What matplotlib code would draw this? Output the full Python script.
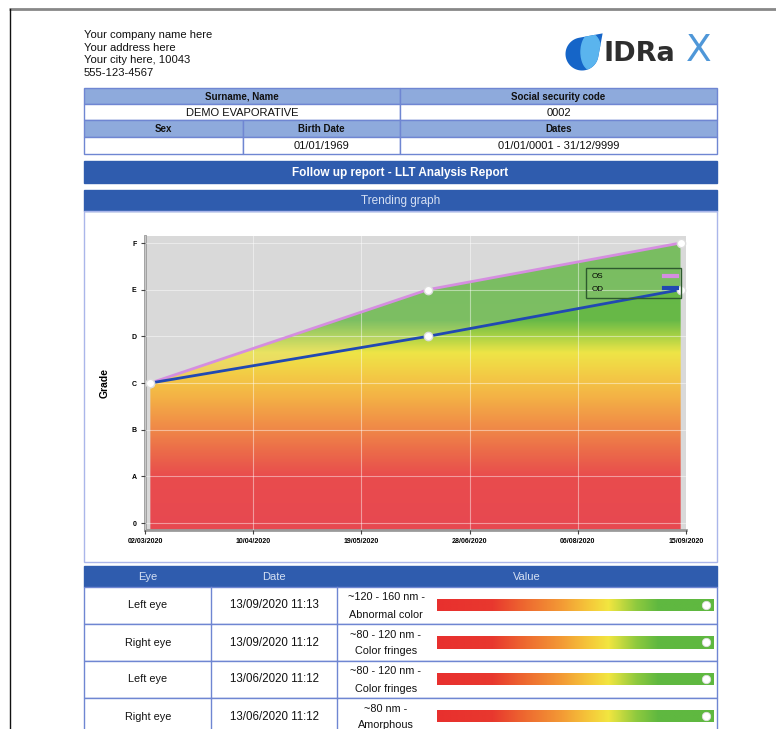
import numpy as np
import matplotlib
matplotlib.use("Agg")
import matplotlib.pyplot as plt
import matplotlib.dates as mdates
from matplotlib.colors import LinearSegmentedColormap
from matplotlib.patches import Rectangle, Ellipse, Polygon
from matplotlib.lines import Line2D
from datetime import datetime

plt.rcParams['font.family'] = ['Liberation Sans', 'DejaVu Sans']

# ---- data ----
company_lines = ["Your company name here", "Your address here",
                 "Your city here, 10043", "555-123-4567"]
patient_name = "DEMO EVAPORATIVE"
ss_code = "0002"
sex = ""
birth_date = "01/01/1969"
date_range = "01/01/0001 - 31/12/9999"

visit_dates = [datetime(2020, 3, 4), datetime(2020, 6, 13), datetime(2020, 9, 13)]
os_grade = [3, 5, 6]
od_grade = [3, 4, 5]
grade_labels = ["0", "A", "B", "C", "D", "E", "F"]
x_start = datetime(2020, 3, 2)
x_end = datetime(2020, 9, 15)

eyes = ["Left eye", "Right eye", "Left eye", "Right eye"]
meas_dates = ["13/09/2020 11:13", "13/09/2020 11:12", "13/06/2020 11:12", "13/06/2020 11:12"]
value_top = ["~120 - 160 nm -", "~80 - 120 nm -", "~80 - 120 nm -", "~80 nm -"]
value_bottom = ["Abnormal color", "Color fringes", "Color fringes", "Amorphous"]
bar_pos = [0.97, 0.97, 0.97, 0.97]

# ---- colours ----
dark_blue = "#2f5cae"
light_blue = "#8eaadc"
line_blue = "#6f86d2"
txt = "#111111"
grade_cmap = LinearSegmentedColormap.from_list("grade", [
    (0.0, "#e8414a"), (1.15 / 6.3, "#ea4546"), (1.75 / 6.3, "#ee6a42"),
    (2.35 / 6.3, "#f39040"), (2.95 / 6.3, "#f6b63e"), (3.35 / 6.3, "#f5cc3e"),
    (3.8 / 6.3, "#f0e640"), (4.2 / 6.3, "#9fcf3e"), (4.5 / 6.3, "#62b841"),
    (1.0, "#5db53f")])
bar_cmap = LinearSegmentedColormap.from_list("bar", [
    (0.0, "#e8302e"), (0.2, "#e8382e"), (0.32, "#ee6a30"), (0.45, "#f39a35"),
    (0.55, "#f5c83a"), (0.62, "#f2e640"), (0.72, "#8fca3e"), (0.8, "#5fb840"),
    (1.0, "#5fb840")])

W, H = 776, 729
fig = plt.figure(figsize=(W / 100, H / 100), dpi=100)
fig.patch.set_facecolor("white")


def fbox(x0, y0, x1, y1):
    return [x0 / W, 1 - y1 / H, (x1 - x0) / W, (y1 - y0) / H]


ov = fig.add_axes([0, 0, 1, 1])
ov.set_xlim(0, W)
ov.set_ylim(H, 0)
ov.axis("off")

# page border
ov.plot([9, W], [8.5, 8.5], color="#888888", lw=2, solid_capstyle="butt")
ov.plot([9.5, 9.5], [8.5, H], color="#111111", lw=1)

# company header
for i, t in enumerate(company_lines):
    ov.text(84, 35 + i * 12.5, t, fontsize=8.1, color=txt, va="center")

# logo: droplet
cx, cy, r = 582, 54, 16.5
ang = np.radians(np.linspace(100, 350, 60))
pts = [(cx + r * np.cos(a), cy - r * np.sin(a)) for a in ang]
pts.append((cx + r * 1.25, cy - r * 1.25))
drop = Polygon(pts, closed=True, facecolor="#1565c8", edgecolor="none")
ov.add_patch(drop)
hl = Ellipse((591, 52), 20, 36, color="#5ab4ee")
ov.add_patch(hl)
hl.set_clip_path(drop)
ov.text(604, 54, "IDRa", fontsize=19.5, fontweight="bold", color="#2e2e2e",
        va="center", family="DejaVu Sans")
ov.text(686, 51, "X", fontsize=27, color="#4f97d8", va="center", family="DejaVu Sans")


def cell(x0, y0, x1, y1, fill, text="", bold=False, size=7, color=txt, ec=line_blue):
    ov.add_patch(Rectangle((x0, y0), x1 - x0, y1 - y0, facecolor=fill, edgecolor=ec, lw=1))
    if text:
        ov.text((x0 + x1) / 2, (y0 + y1) / 2 + 0.5, text, ha="center", va="center",
                fontsize=size, fontweight="bold" if bold else "normal", color=color)


# patient table
cell(84, 88, 400, 104, light_blue, "Surname, Name", True)
cell(400, 88, 717, 104, light_blue, "Social security code", True)
cell(84, 104, 400, 120, "white", patient_name, size=8)
cell(400, 104, 717, 120, "white", ss_code, size=8)
cell(84, 120, 243, 137, light_blue, "Sex", True)
cell(243, 120, 400, 137, light_blue, "Birth Date", True)
cell(400, 120, 717, 137, light_blue, "Dates", True)
cell(84, 137, 243, 154, "white", sex, size=8)
cell(243, 137, 400, 154, "white", birth_date, size=8)
cell(400, 137, 717, 154, "white", date_range, size=8)

# banners
cell(84, 161, 717, 183, dark_blue, "Follow up report - LLT Analysis Report", True, 8.5,
     "white", ec=dark_blue)
cell(84, 190, 717, 211, dark_blue, "Trending graph", False, 8.5, "#d5e0f3", ec=dark_blue)
ov.add_patch(Rectangle((84, 211), 633, 351, facecolor="none", edgecolor="#aab6ea", lw=1))

# ---- trending chart ----
ax = fig.add_axes(fbox(145, 236, 686, 530))
ax.set_facecolor("#d9d9d9")
xd = mdates.date2num(visit_dates)
x0n, x1n = mdates.date2num(x_start), mdates.date2num(x_end)
grad = np.linspace(0, 1, 256).reshape(-1, 1)
for g in (os_grade, od_grade):
    poly = ax.fill_between(xd, -0.15, g, color="none", lw=0)
    im = ax.imshow(grad, cmap=grade_cmap, origin="lower", aspect="auto",
                   extent=[x0n, x1n, -0.15, 6.15], alpha=0.78, zorder=1)
    im.set_clip_path(poly.get_paths()[0], transform=ax.transData)
ax.set_xlim(x0n, x1n)
ax.set_ylim(-0.15, 6.15)
ax.plot(xd, os_grade, color="#d58ee0", lw=2, marker="o", ms=6, mfc="white",
        mec="#dddddd", zorder=3)
ax.plot(xd, od_grade, color="#2149b2", lw=2, marker="o", ms=6, mfc="white",
        mec="#dddddd", zorder=4)
ax.set_xticks(np.linspace(x0n, x1n, 6))
ax.xaxis.set_major_formatter(mdates.DateFormatter("%d/%m/%Y"))
ax.set_yticks(range(len(grade_labels)))
ax.set_yticklabels(grade_labels)
ax.tick_params(labelsize=5, length=3, color="#444444", pad=3)
for lab in ax.get_xticklabels() + ax.get_yticklabels():
    lab.set_fontweight("bold")
ax.grid(True, color="white", alpha=0.45, lw=0.8)
ax.set_axisbelow(False)
for s in ("top", "right"):
    ax.spines[s].set_visible(False)
for s in ("left", "bottom"):
    ax.spines[s].set_color("#9a9a9a")
    ax.spines[s].set_linewidth(2)
ax.set_ylabel("Grade", fontsize=7.5, fontweight="bold", labelpad=16)
handles = [Line2D([], [], color="#d58ee0", lw=3), Line2D([], [], color="#2149b2", lw=3)]
leg = ax.legend(handles, ["OS", "OD"], loc="upper right", bbox_to_anchor=(0.999, 0.905),
                markerfirst=False, fontsize=5.8, handlelength=1.6, handletextpad=7.5,
                borderpad=0.6, labelspacing=0.6, fancybox=False, framealpha=1)
leg.get_frame().set_facecolor("none")
leg.get_frame().set_edgecolor("#2e5a2e")
leg.get_frame().set_linewidth(1)

# ---- measurement table ----
cell(84, 566, 717, 587, dark_blue, ec=dark_blue)
for xc, t in [(148, "Eye"), (274, "Date"), (527, "Value")]:
    ov.text(xc, 577, t, ha="center", va="center", fontsize=8, color="#d5e0f3")
row_h = 37
for i in range(len(eyes)):
    y0 = 587 + i * row_h
    yc = y0 + row_h / 2
    ov.add_patch(Rectangle((84, y0), 633, row_h, facecolor="white", edgecolor=line_blue, lw=1))
    ov.plot([211, 211], [y0, y0 + row_h], color=line_blue, lw=1)
    ov.plot([337, 337], [y0, y0 + row_h], color=line_blue, lw=1)
    ov.text(148, yc, eyes[i], ha="center", va="center", fontsize=7.8, color=txt)
    ov.text(274, yc, meas_dates[i], ha="center", va="center", fontsize=8.3, color=txt)
    ov.text(386, yc - 8, value_top[i], ha="center", va="center", fontsize=7.8, color=txt)
    ov.text(386, yc + 9, value_bottom[i], ha="center", va="center", fontsize=7.8, color=txt)
    bx = fig.add_axes(fbox(437, yc - 6.5, 714, yc + 6))
    bx.imshow(np.linspace(0, 1, 256).reshape(1, -1), cmap=bar_cmap, aspect="auto",
              extent=[0, 1, 0, 1])
    bx.plot([bar_pos[i]], [0.5], "o", ms=6, mfc="white", mec="#dddddd", mew=0.6)
    bx.set_xlim(0, 1)
    bx.set_ylim(0, 1)
    bx.axis("off")

fig.savefig("out.png", dpi=100)
